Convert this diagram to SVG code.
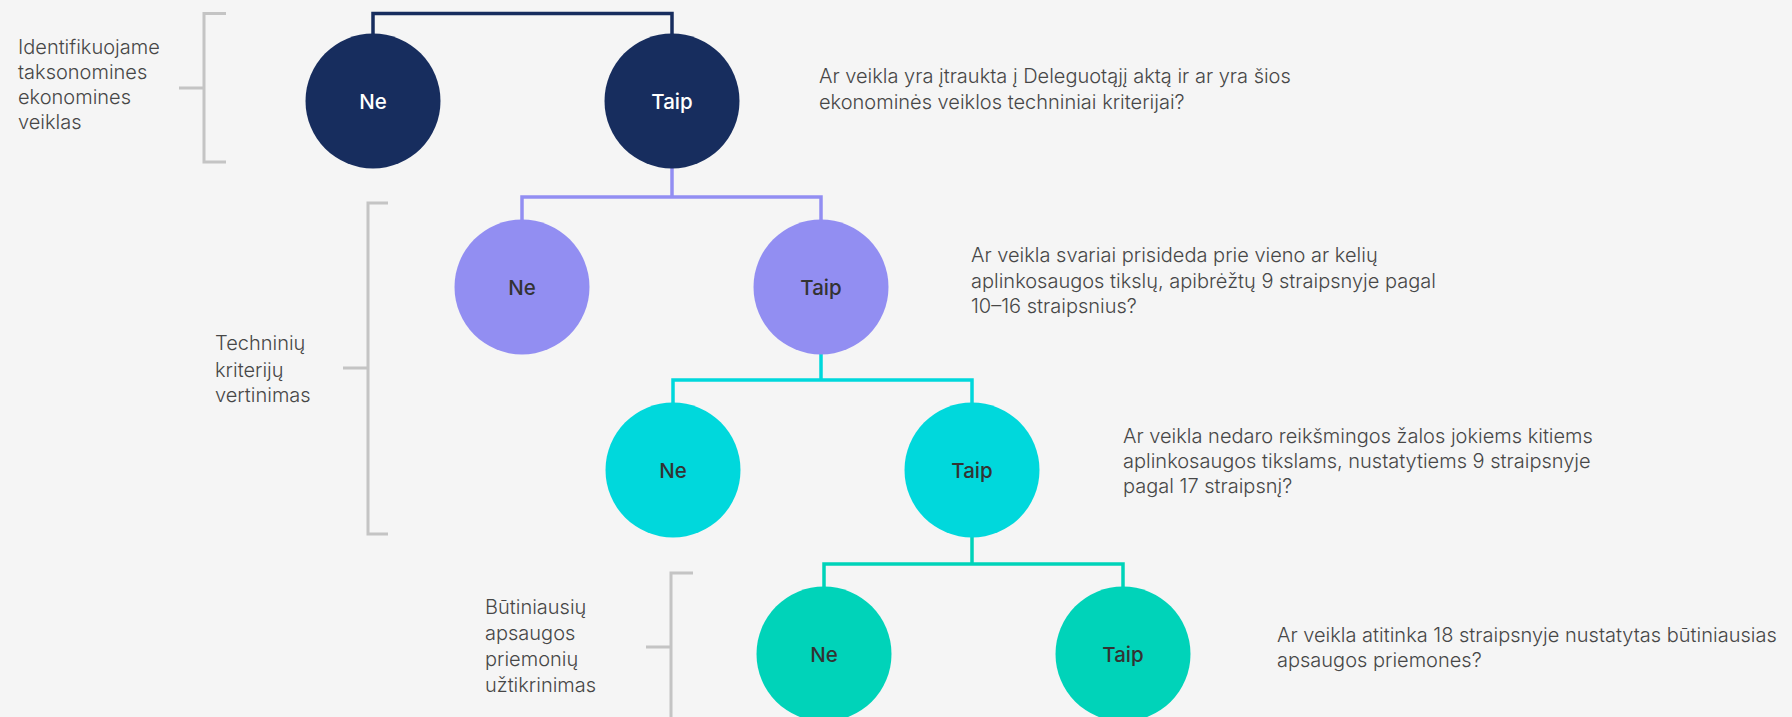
<svg xmlns="http://www.w3.org/2000/svg" width="1792" height="717" viewBox="0 0 1792 717">
<style>
.bg{fill:#f5f5f5}
.br{fill:none;stroke:#c4c4c4;stroke-width:3}
.c{fill:none;stroke-width:3.5}
.lbl{font-family:Inter,"Liberation Sans",sans-serif;font-size:20px;font-weight:300;fill:#474747}
.q{font-family:Inter,"Liberation Sans",sans-serif;font-size:20px;font-weight:300;fill:#474747}
.n{font-family:Inter,"Liberation Sans",sans-serif;font-size:20.5px;font-weight:500;text-anchor:middle;dominant-baseline:central}
.l1{fill:#172d5e}.l2{fill:#928ef2}.l3{fill:#00d8dc}.l4{fill:#00d3b9}
</style>
<rect class="bg" width="1792" height="717"/>
<g id="brackets">
<path class="br" d="M226,13.5H204V162H226M179,88H204"/>
<path class="br" d="M388,203H368V534H388M343,368H368"/>
<path class="br" d="M693,573H671V740M646,647H671"/>
</g>
<g id="labels" class="lbl">
<text x="18" y="54">Identifikuojame</text>
<text x="18" y="79">taksonomines</text>
<text x="18" y="104">ekonomines</text>
<text x="18" y="129">veiklas</text>
<text x="215" y="350">Techninių</text>
<text x="215" y="377">kriterijų</text>
<text x="215" y="402">vertinimas</text>
<text x="485" y="614">Būtiniausių</text>
<text x="485" y="640">apsaugos</text>
<text x="485" y="666">priemonių</text>
<text x="485" y="692">užtikrinimas</text>
</g>
<g id="connectors">
<path class="c" stroke="#172d5e" d="M373,34V13.5H672V34"/>
<path class="c" stroke="#928ef2" d="M672,168V197H522V220M672,197H821V220"/>
<path class="c" stroke="#00d8dc" d="M821,354V380H673V403M821,380H972V403"/>
<path class="c" stroke="#00d3b9" d="M972,537V564H824V587M972,564H1123V587"/>
</g>
<g id="n1ne"><circle class="l1" cx="373" cy="101" r="67.5"/><text class="n" x="373" y="101" fill="#fff">Ne</text></g>
<g id="n1taip"><circle class="l1" cx="672" cy="101" r="67.5"/><text class="n" x="672" y="101" fill="#fff">Taip</text></g>
<g id="n2ne"><circle class="l2" cx="522" cy="287" r="67.5"/><text class="n" x="522" y="287" fill="#333">Ne</text></g>
<g id="n2taip"><circle class="l2" cx="821" cy="287" r="67.5"/><text class="n" x="821" y="287" fill="#333">Taip</text></g>
<g id="n3ne"><circle class="l3" cx="673" cy="470" r="67.5"/><text class="n" x="673" y="470" fill="#333">Ne</text></g>
<g id="n3taip"><circle class="l3" cx="972" cy="470" r="67.5"/><text class="n" x="972" y="470" fill="#333">Taip</text></g>
<g id="n4ne"><circle class="l4" cx="824" cy="654" r="67.5"/><text class="n" x="824" y="654" fill="#333">Ne</text></g>
<g id="n4taip"><circle class="l4" cx="1123" cy="654" r="67.5"/><text class="n" x="1123" y="654" fill="#333">Taip</text></g>
<g id="questions" class="q">
<text x="819" y="83">Ar veikla yra įtraukta į Deleguotąjį aktą ir ar yra šios</text>
<text x="819" y="109">ekonominės veiklos techniniai kriterijai?</text>
<text x="971" y="262">Ar veikla svariai prisideda prie vieno ar kelių</text>
<text x="971" y="288">aplinkosaugos tikslų, apibrėžtų 9 straipsnyje pagal</text>
<text x="971" y="313">10–16 straipsnius?</text>
<text x="1123" y="443">Ar veikla nedaro reikšmingos žalos jokiems kitiems</text>
<text x="1123" y="468">aplinkosaugos tikslams, nustatytiems 9 straipsnyje</text>
<text x="1123" y="493">pagal 17 straipsnį?</text>
<text x="1277" y="642">Ar veikla atitinka 18 straipsnyje nustatytas būtiniausias</text>
<text x="1277" y="667">apsaugos priemones?</text>
</g>
</svg>
